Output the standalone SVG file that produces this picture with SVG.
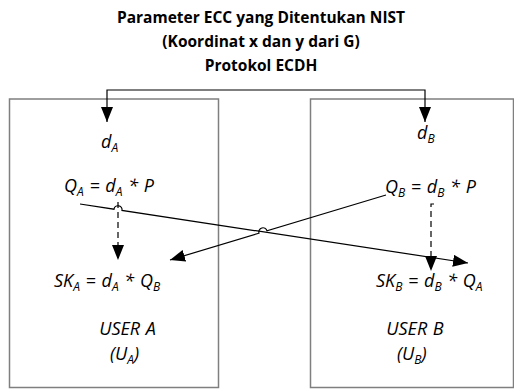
<svg xmlns="http://www.w3.org/2000/svg" width="514" height="389" viewBox="0 0 514 389">
  <style>
    .title { font-family: "Open Sans", "Liberation Sans", sans-serif; font-weight: bold; font-size: 15.5px; fill: #000; text-anchor: middle; }
    .math { font-family: "Open Sans", "Liberation Sans", sans-serif; font-style: italic; font-size: 18px; word-spacing: 1px; fill: #000; }
    .sub { font-size: 12px; }
    .box { fill: #fff; stroke: #7f7f7f; stroke-width: 1.5; }
    .wire { fill: none; stroke: #000; stroke-width: 1.2; }
    .dash { stroke-dasharray: 6 4; }
  </style>
  <defs>
    <marker id="arrow" viewBox="0 0 15 12" refX="15" refY="6" markerWidth="15" markerHeight="12" markerUnits="userSpaceOnUse" orient="auto-start-reverse">
      <path d="M0,0 L15,6 L0,12 z" fill="#000"/>
    </marker>
  </defs>

  <rect width="514" height="389" fill="#fff"/>

  <g id="title">
    <text class="title" x="261" y="23">Parameter ECC yang Ditentukan NIST</text>
    <text class="title" x="261" y="47">(Koordinat x dan y dari G)</text>
    <text class="title" x="261" y="71">Protokol ECDH</text>
  </g>

  <g id="userA">
    <rect class="box" x="9.5" y="99" width="209" height="288.5"/>
    <text class="math" x="101" y="148">d<tspan class="sub" dy="4">A</tspan></text>
    <text class="math" x="64" y="192">Q<tspan class="sub" dy="4">A</tspan><tspan dy="-4"> = d</tspan><tspan class="sub" dy="4">A</tspan><tspan dy="-4"> * P</tspan></text>
    <text class="math" x="54" y="287">SK<tspan class="sub" dy="4">A</tspan><tspan dy="-4"> = d</tspan><tspan class="sub" dy="4">A</tspan><tspan dy="-4"> * Q</tspan><tspan class="sub" dy="4">B</tspan></text>
    <text class="math" x="127.5" y="335" text-anchor="middle">USER A</text>
    <text class="math" x="110" y="360">(U<tspan class="sub" dy="4">A</tspan><tspan dy="-4">)</tspan></text>
  </g>

  <g id="userB">
    <rect class="box" x="310.5" y="99" width="203" height="288.5"/>
    <text class="math" x="417" y="139">d<tspan class="sub" dy="4">B</tspan></text>
    <text class="math" x="385" y="193">Q<tspan class="sub" dy="4">B</tspan><tspan dy="-4"> = d</tspan><tspan class="sub" dy="4">B</tspan><tspan dy="-4"> * P</tspan></text>
    <text class="math" x="376" y="287">SK<tspan class="sub" dy="4">B</tspan><tspan dy="-4"> = d</tspan><tspan class="sub" dy="4">B</tspan><tspan dy="-4"> * Q</tspan><tspan class="sub" dy="4">A</tspan></text>
    <text class="math" x="415" y="335" text-anchor="middle">USER B</text>
    <text class="math" x="397" y="360">(U<tspan class="sub" dy="4">B</tspan><tspan dy="-4">)</tspan></text>
  </g>

  <g id="connectors">
    <!-- shared parameters to both users -->
    <path class="wire" d="M107,122 V90 H425 V122" marker-start="url(#arrow)" marker-end="url(#arrow)"/>
    <!-- Q_A sent to user B, hopping over the dashed line -->
    <path class="wire" d="M80,204 L114,209.2 A4,4 0 0 1 122,210.4 L468,263" marker-end="url(#arrow)"/>
    <!-- Q_B sent to user A, hopping over the Q_A line -->
    <path class="wire" d="M386,195 L267,230.8 A4,4 0 0 0 259,233.2 L170,260" marker-end="url(#arrow)"/>
    <!-- local private key use -->
    <path class="wire dash" d="M118,202 V260" marker-end="url(#arrow)"/>
    <path class="wire dash" d="M434,204 H431 V271" marker-end="url(#arrow)"/>
  </g>
</svg>
